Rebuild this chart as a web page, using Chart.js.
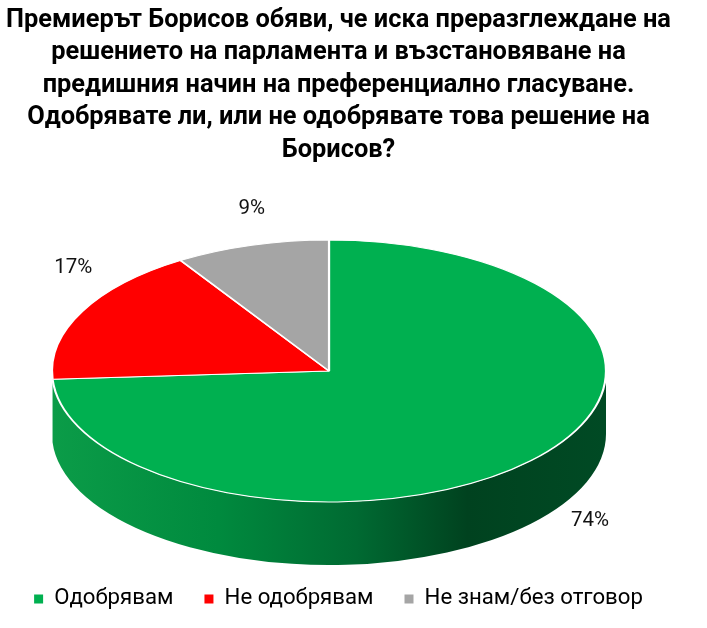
<!DOCTYPE html>
<html>
<head>
<meta charset="utf-8">
<script src="https://cdn.jsdelivr.net/npm/chart.js@4.4.1/dist/chart.umd.min.js"></script>
<style>
  html, body { margin: 0; padding: 0; background: #fff; }
  #wrap { width: 707px; height: 628px; }
</style>
</head>
<body>
<div id="wrap"><canvas id="pie"></canvas></div>
<script>
// данни от графиката
const categories = ['Одобрявам', 'Не одобрявам', 'Не знам/без отговор'];
const shares = [74, 17, 9];
const sliceColors = ['#00B050', '#FF0000', '#A5A5A5'];
const titleLines = [
    'Премиерът Борисов обяви, че иска преразглеждане на',
    'решението на парламента и възстановяване на',
    'предишния начин на преференциално гласуване.',
    'Одобрявате ли, или не одобрявате това решение на',
    'Борисов?'
];

const FONT = 'Roboto, "Noto Sans", sans-serif';

// размер на шрифта спрямо ширината на текста в оригинала
const probe = document.createElement('canvas').getContext('2d');
function fitSize(text, weight, target) {
    probe.font = weight + ' 100px ' + FONT;
    return Math.round(1000 * target / probe.measureText(text).width) / 10;
}
const titleSize = fitSize(titleLines[0], 'bold', 664);
const legendSize = fitSize(categories[2], 'normal', 218);
const labelSize = fitSize('74%', 'normal', 38);

// елипса на горната страна и дебелина на "питата"
const geom = { cx: 329, cy: 371, rx: 277, ry: 131, depth: 63 };
const sideStops = [
    [[0, '#0b9c48'], [0.3, '#008a3e'], [0.55, '#006a32'], [0.75, '#00421f'], [1, '#004a24']],
    [[0, '#d00000'], [1, '#800000']],
    [[0, '#8c8c8c'], [1, '#5a5a5a']]
];
const labelNudge = [[59, -3], [-9, -44], [0, -36]];

const pie3d = {
    id: 'pie3d',
    beforeDatasetsDraw(chart) {
        const ctx = chart.ctx;
        const meta = chart.getDatasetMeta(0);
        const { cx, cy, rx, ry, depth } = geom;

        // страничната стена - вижда се само предната половина
        meta.data.forEach((arc, i) => {
            const s = Math.max(arc.startAngle, 0);
            const e = Math.min(arc.endAngle, Math.PI);
            if (e - s < 0.1) return; // тесните парчета до ръба не се виждат
            const g = ctx.createLinearGradient(cx - rx, 0, cx + rx, 0);
            sideStops[i].forEach(([p, c]) => g.addColorStop(p, c));
            ctx.beginPath();
            ctx.ellipse(cx, cy, rx, ry, 0, s, e);
            ctx.ellipse(cx, cy + depth, rx, ry, 0, e, s, true);
            ctx.closePath();
            ctx.fillStyle = g;
            ctx.fill();
        });

        // горната страна: кръгът на Chart.js се сплесква в елипса
        const a0 = meta.data[0];
        ctx.save();
        ctx.translate(cx, cy);
        ctx.scale(rx / a0.outerRadius, ry / a0.outerRadius);
        ctx.translate(-a0.x, -a0.y);
    },
    afterDatasetsDraw(chart) {
        const ctx = chart.ctx;
        ctx.restore();

        const meta = chart.getDatasetMeta(0);
        const { cx, cy, rx, ry, depth } = geom;
        const total = shares.reduce((a, b) => a + b, 0);
        ctx.save();
        ctx.font = labelSize + 'px ' + FONT;
        ctx.fillStyle = '#111';
        ctx.textAlign = 'center';
        ctx.textBaseline = 'middle';
        meta.data.forEach((arc, i) => {
            const mid = (arc.startAngle + arc.endAngle) / 2;
            const ex = cx + rx * Math.cos(mid);
            const ey = cy + ry * Math.sin(mid) + (Math.sin(mid) > 0 ? depth : 0);
            const pct = Math.round(shares[i] / total * 100) + '%';
            ctx.fillText(pct, ex + labelNudge[i][0], ey + labelNudge[i][1]);
        });
        ctx.restore();
    }
};

new Chart(document.getElementById('pie'), {
    type: 'pie',
    data: {
        labels: categories,
        datasets: [{
            data: shares,
            backgroundColor: sliceColors,
            borderColor: '#ffffff',
            borderWidth: 1.5,
            clip: false
        }]
    },
    options: {
        responsive: true,
        maintainAspectRatio: false,
        animation: false,
        events: [],
        layout: { padding: { left: 0, right: 30, top: 4, bottom: 8 } },
        plugins: {
            title: {
                display: true,
                text: titleLines,
                color: '#000',
                font: { family: FONT, size: titleSize, weight: 'bold', lineHeight: 32.5 / titleSize },
                padding: { top: 0, bottom: 10 }
            },
            legend: {
                position: 'bottom',
                labels: {
                    boxWidth: 9,
                    boxHeight: 9,
                    padding: 31,
                    color: '#000',
                    font: { family: FONT, size: legendSize },
                    generateLabels: () => categories.map((t, i) => ({
                        text: t, fillStyle: sliceColors[i], strokeStyle: sliceColors[i],
                        lineWidth: 0, hidden: false, index: i
                    }))
                }
            },
            tooltip: { enabled: false }
        }
    },
    plugins: [pie3d]
});
</script>
</body>
</html>
